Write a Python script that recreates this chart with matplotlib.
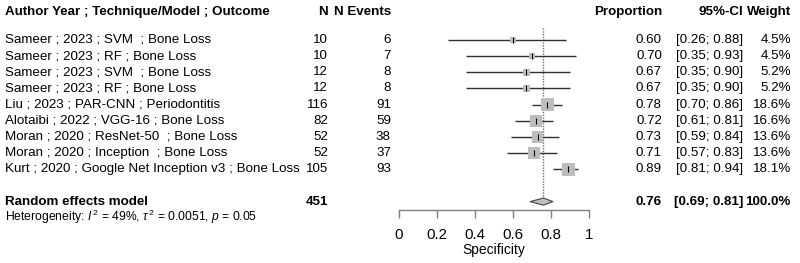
import matplotlib
matplotlib.use("Agg")
import matplotlib.pyplot as plt
from matplotlib.transforms import blended_transform_factory
import numpy as np

plt.rcParams['font.family'] = ['Liberation Sans', 'DejaVu Sans']
plt.rcParams['mathtext.fontset'] = 'custom'
plt.rcParams['mathtext.rm'] = 'Liberation Sans'
plt.rcParams['mathtext.it'] = 'Liberation Sans:italic'

studies = [
    "Sameer ; 2023 ; SVM  ; Bone Loss",
    "Sameer ; 2023 ; RF ; Bone Loss",
    "Sameer ; 2023 ; SVM  ; Bone Loss",
    "Sameer ; 2023 ; RF ; Bone Loss",
    "Liu ; 2023 ; PAR-CNN ; Periodontitis",
    "Alotaibi ; 2022 ; VGG-16 ; Bone Loss",
    "Moran ; 2020 ; ResNet-50  ; Bone Loss",
    "Moran ; 2020 ; Inception  ; Bone Loss",
    "Kurt ; 2020 ; Google Net Inception v3 ; Bone Loss",
]
n_total = [10, 10, 12, 12, 116, 82, 52, 52, 105]
n_events = [6, 7, 8, 8, 91, 59, 38, 37, 93]
proportion = [0.60, 0.70, 0.67, 0.67, 0.78, 0.72, 0.73, 0.71, 0.89]
ci_low = [0.26, 0.35, 0.35, 0.35, 0.70, 0.61, 0.59, 0.57, 0.81]
ci_high = [0.88, 0.93, 0.90, 0.90, 0.86, 0.81, 0.84, 0.83, 0.94]
weight = [4.5, 4.5, 5.2, 5.2, 18.6, 16.6, 13.6, 13.6, 18.1]

pooled_n = 451
pooled_est = 0.76
pooled_low = 0.69
pooled_high = 0.81
xticks = [0, 0.2, 0.4, 0.6, 0.8, 1]
xtick_labels = ["0", "0.2", "0.4", "0.6", "0.8", "1"]

W, H = 800, 263
fig = plt.figure(figsize=(W / 100, H / 100), dpi=100)

row_px = 16.16
first_px = 40.0
def k_of(px):
    return 1 + (px - first_px) / row_px

ax = fig.add_axes([399 / W, 0, 190 / W, 1])
ax.set_xlim(0, 1)
ax.set_ylim(k_of(H), k_of(0))
ax.axis('off')

rows = np.arange(1, len(studies) + 1)
pooled_row = 11

# dotted pooled line
ax.vlines(pooled_est, k_of(28), pooled_row - 0.2, colors='#707070',
          linestyles=(0, (1, 1)), lw=1.0, zorder=1)

# CI lines
ax.hlines(rows, ci_low, ci_high, colors='#303030', lw=1.0, zorder=2)
# boxes
side_px = 3.05 * np.sqrt(np.array(weight))
ax.scatter(proportion, rows, marker='s', s=(side_px * 0.72) ** 2,
           color='#BDBDBD', edgecolors='none', zorder=3)
ax.scatter(proportion, rows, marker='|', s=14, color='black', lw=0.8, zorder=4)

# diamond
hh = 0.22
ax.fill([pooled_low, pooled_est, pooled_high, pooled_est],
        [pooled_row, pooled_row - hh, pooled_row, pooled_row + hh],
        facecolor='#C0C0C0', edgecolor='#404040', lw=0.8, zorder=3)

# x axis
axx = fig.add_axes([399 / W, (H - 210) / H, 190 / W, 0.0001])
axx.set_xlim(0, 1)
for s in ['top', 'left', 'right']:
    axx.spines[s].set_visible(False)
axx.spines['bottom'].set_color('#808080')
axx.spines['bottom'].set_linewidth(1.0)
axx.set_yticks([])
axx.set_xticks(xticks)
axx.set_xticklabels(xtick_labels, fontsize=10.8)
axx.tick_params(axis='x', length=5.5, width=1.0, color='#808080', pad=7.5)
axx.patch.set_visible(False)
fig.text(494 / W, 1 - 250 / H, "Specificity", ha='center', va='center', fontsize=10)

tr = blended_transform_factory(fig.transFigure, ax.transData)
fs = 9.6
def col(xpx, y, s, ha, bold=False, size=fs):
    fig.text(xpx / W, y, s, ha=ha, va='center', fontsize=size,
             fontweight='bold' if bold else 'normal', transform=tr)

hdr_k = k_of(12)
col(5, hdr_k, "Author Year ; Technique/Model ; Outcome", 'left', True)
col(328, hdr_k, "N", 'right', True)
col(391, hdr_k, "N Events", 'right', True)
col(662, hdr_k, "Proportion", 'right', True)
col(743, hdr_k, "95%-CI", 'right', True)
col(791, hdr_k, "Weight", 'right', True)

for r, lab, n, e, p, lo, hi, w in zip(rows, studies, n_total, n_events,
                                       proportion, ci_low, ci_high, weight):
    col(5, r, lab, 'left')
    col(328, r, str(n), 'right')
    col(391, r, str(e), 'right')
    col(662, r, f"{p:.2f}", 'right')
    col(743, r, f"[{lo:.2f}; {hi:.2f}]", 'right')
    col(791, r, f"{w:.1f}%", 'right')

col(5, pooled_row, "Random effects model", 'left', True)
col(328, pooled_row, str(pooled_n), 'right', True)
col(662, pooled_row, f"{pooled_est:.2f}", 'right', True)
col(743, pooled_row, f"[{pooled_low:.2f}; {pooled_high:.2f}]", 'right', True)
col(791, pooled_row, "100.0%", 'right', True)
col(5, k_of(216.5), r"Heterogeneity: $\mathit{I}^{\,2}$ = 49%, $\tau^{\,2}$ = 0.0051, $\mathit{p}$ = 0.05",
    'left', size=8.7)

fig.savefig("out.png", dpi=100)
